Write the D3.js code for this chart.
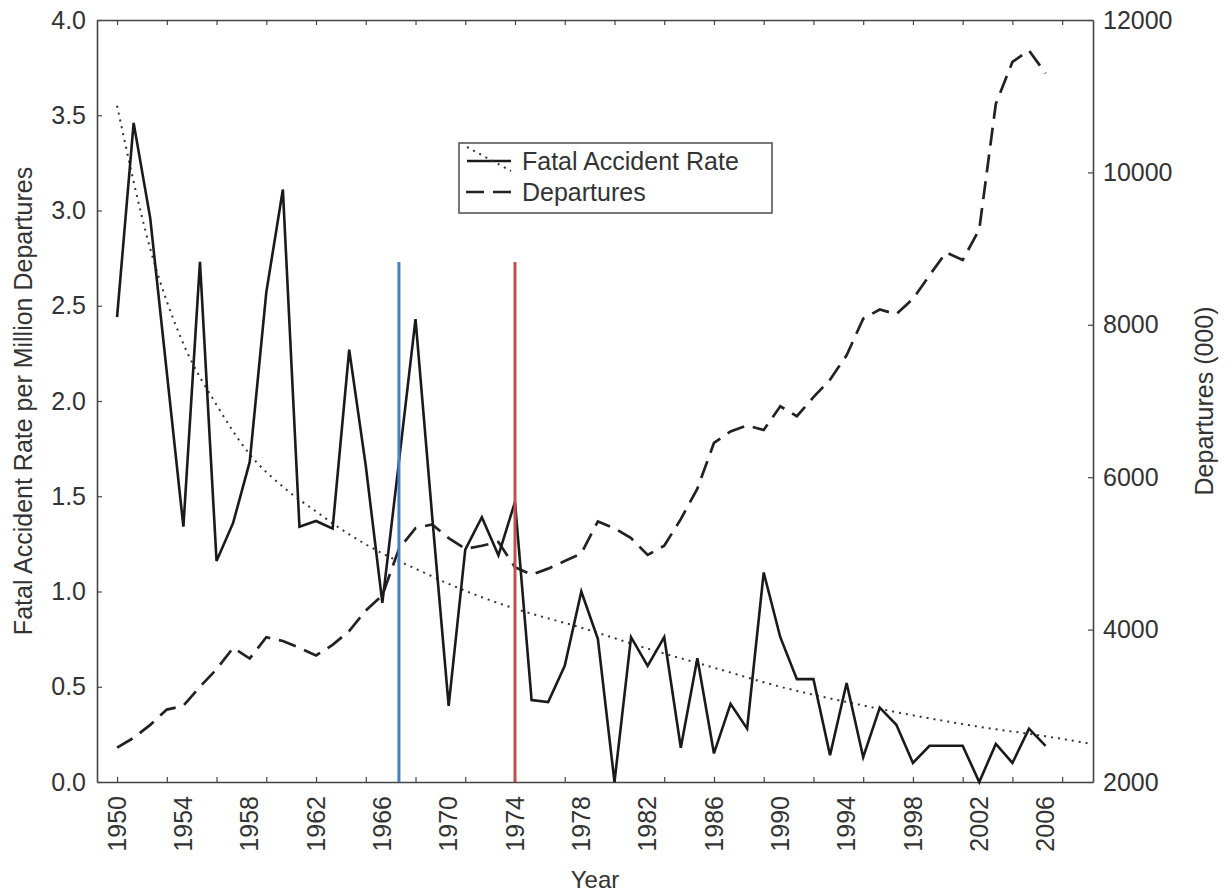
<!DOCTYPE html>
<html>
<head>
<meta charset="utf-8">
<script src="https://cdn.jsdelivr.net/npm/d3@7"></script>
<style>
  body { margin: 0; background: #fff; }
  svg text { font-family: "Liberation Sans", Arial, sans-serif; fill: #333; }
</style>
</head>
<body>
<script>
// ---- data ----
var years = [1950, 1951, 1952, 1953, 1954, 1955, 1956, 1957, 1958, 1959,
    1960, 1961, 1962, 1963, 1964, 1965, 1966, 1967, 1968, 1969,
    1970, 1971, 1972, 1973, 1974, 1975, 1976, 1977, 1978, 1979,
    1980, 1981, 1982, 1983, 1984, 1985, 1986, 1987, 1988, 1989,
    1990, 1991, 1992, 1993, 1994, 1995, 1996, 1997, 1998, 1999,
    2000, 2001, 2002, 2003, 2004, 2005, 2006];

// fatal accidents per million departures
var fatalRate = [2.44, 3.46, 2.96, 2.15, 1.34, 2.73, 1.16, 1.36, 1.68, 2.57,
    3.11, 1.34, 1.37, 1.33, 2.27, 1.66, 0.94, 1.68, 2.43, 1.40,
    0.40, 1.22, 1.39, 1.19, 1.47, 0.43, 0.42, 0.61, 1.00, 0.75,
    0.00, 0.76, 0.61, 0.76, 0.18, 0.65, 0.15, 0.41, 0.28, 1.10,
    0.76, 0.54, 0.54, 0.14, 0.52, 0.13, 0.39, 0.30, 0.10, 0.19,
    0.19, 0.19, 0.00, 0.20, 0.10, 0.28, 0.19];

// departures (000)
var departures = [2450, 2580, 2750, 2950, 3000, 3250, 3480, 3760, 3620, 3900,
    3850, 3760, 3660, 3800, 3980, 4250, 4450, 5060, 5330, 5380,
    5200, 5060, 5100, 5150, 4820, 4720, 4800, 4900, 5000, 5420,
    5330, 5200, 4980, 5100, 5450, 5850, 6450, 6600, 6680, 6620,
    6930, 6800, 7050, 7280, 7600, 8080, 8200, 8140, 8340, 8650,
    8950, 8850, 9250, 10900, 11450, 11600, 11300];

// dotted trend line of the fatal rate
var trendYears = [1950, 1952, 1954, 1956, 1958, 1960, 1962, 1964, 1966, 1968,
    1970, 1972, 1974, 1978, 1982, 1986, 1990, 1994, 1998, 2002, 2006, 2008.8];
var trendRate = [3.55, 2.80, 2.30, 1.98, 1.72, 1.55, 1.42, 1.30, 1.20, 1.12,
    1.04, 0.97, 0.91, 0.81, 0.70, 0.60, 0.50, 0.42, 0.35, 0.29, 0.24, 0.20];

// coloured marker lines: year and top value (left axis)
var markerYears = [1967, 1974];
var markerTop = [2.73, 2.73];
var markerColors = ["#4a7fc1", "#c0504d"];

var tickYears = [1950, 1953, 1956, 1959, 1962, 1965, 1968, 1971, 1974, 1977,
    1980, 1983, 1986, 1989, 1992, 1995, 1998, 2001, 2004, 2007];
var labelYears = [1950, 1954, 1958, 1962, 1966, 1970, 1974, 1978, 1982, 1986,
    1990, 1994, 1998, 2002, 2006];
var leftTicks = [0, 0.5, 1.0, 1.5, 2.0, 2.5, 3.0, 3.5, 4.0];
var rightTicks = [2000, 4000, 6000, 8000, 10000, 12000];

var legendLabels = ["Fatal Accident Rate", "Departures"];

// ---- layout ----
var margin = {top: 20, right: 135, bottom: 114, left: 97},
    width = 1228 - margin.left - margin.right,
    height = 896 - margin.top - margin.bottom;

var svg = d3.select("body").append("svg")
    .attr("width", 1228)
    .attr("height", 896)
    .append("g")
    .attr("transform", "translate(" + margin.left + "," + margin.top + ")");

var x = d3.scaleLinear().domain([1948.79, 2008.86]).range([0, width]);
var yL = d3.scaleLinear().domain([0, 4]).range([height, 0]);
var yR = d3.scaleLinear().domain([2000, 12000]).range([height, 0]);

var axisColor = "#444";

// ---- axes (ticks point inwards) ----
var gLeft = svg.append("g")
    .call(d3.axisLeft(yL).tickValues(leftTicks).tickFormat(d3.format(".1f"))
        .tickSize(-5).tickSizeOuter(0).tickPadding(11));

var gRight = svg.append("g")
    .attr("transform", "translate(" + width + ",0)")
    .call(d3.axisRight(yR).tickValues(rightTicks).tickFormat(d3.format("d"))
        .tickSize(-5).tickSizeOuter(0).tickPadding(10));

var gBottom = svg.append("g")
    .attr("transform", "translate(0," + height + ")")
    .call(d3.axisBottom(x).tickValues(tickYears).tickFormat("")
        .tickSize(-5).tickSizeOuter(0));

var gTop = svg.append("g")
    .call(d3.axisTop(x).tickValues(tickYears).tickFormat("")
        .tickSize(-5).tickSizeOuter(0));

[gLeft, gRight, gBottom, gTop].forEach(function(g){
    g.selectAll("path.domain").attr("stroke", axisColor).attr("stroke-width", 1.6);
    g.selectAll(".tick line").attr("stroke", axisColor).attr("stroke-width", 1.2);
    g.selectAll("text").style("font-size", "25px").attr("fill", "#333");
});

// rotated year labels
svg.append("g").selectAll("text")
    .data(labelYears)
    .enter()
    .append("text")
    .attr("transform", function(d){
        return "translate(" + x(d) + "," + (height + 14) + ") rotate(-90)";
    })
    .attr("text-anchor", "end")
    .attr("dy", "0.35em")
    .style("font-size", "25px")
    .text(function(d){ return d; });

// axis titles
svg.append("text")
    .attr("x", width / 2)
    .attr("y", height + 106)
    .attr("text-anchor", "middle")
    .style("font-size", "24px")
    .text("Year");

svg.append("text")
    .attr("transform", "translate(" + (32 - margin.left) + "," + (height / 2) + ") rotate(-90)")
    .attr("text-anchor", "middle")
    .style("font-size", "25px")
    .text("Fatal Accident Rate per Million Departures");

svg.append("text")
    .attr("transform", "translate(" + (1213 - margin.left) + "," + (height / 2) + ") rotate(-90)")
    .attr("text-anchor", "middle")
    .style("font-size", "25px")
    .text("Departures (000)");

// ---- series ----
var trendLine = d3.line()
    .curve(d3.curveMonotoneX)
    .x(function(d, i){ return x(trendYears[i]); })
    .y(function(d){ return yL(d); });

svg.append("path")
    .attr("d", trendLine(trendRate))
    .attr("fill", "none")
    .attr("stroke", "#333")
    .attr("stroke-width", 2)
    .attr("stroke-dasharray", "2,5");

var depLine = d3.line()
    .x(function(d, i){ return x(years[i]); })
    .y(function(d){ return yR(d); });

svg.append("path")
    .attr("d", depLine(departures))
    .attr("fill", "none")
    .attr("stroke", "#222")
    .attr("stroke-width", 2.7)
    .attr("stroke-dasharray", "18,9");

var rateLine = d3.line()
    .x(function(d, i){ return x(years[i]); })
    .y(function(d){ return yL(d); });

svg.append("path")
    .attr("d", rateLine(fatalRate))
    .attr("fill", "none")
    .attr("stroke", "#1a1a1a")
    .attr("stroke-width", 2.6)
    .attr("stroke-linejoin", "miter");

// coloured vertical markers
markerYears.forEach(function(yr, i){
    svg.append("line")
        .attr("x1", x(yr))
        .attr("x2", x(yr))
        .attr("y1", yL(0))
        .attr("y2", yL(markerTop[i]))
        .attr("stroke", markerColors[i])
        .attr("stroke-width", 3);
});

// ---- legend ----
var lg = svg.append("g")
    .attr("transform", "translate(" + (459 - margin.left) + "," + (143 - margin.top) + ")");

lg.append("rect")
    .attr("width", 313)
    .attr("height", 70)
    .attr("fill", "#fff")
    .attr("stroke", "#555")
    .attr("stroke-width", 1.6);

// solid + dotted sample for the rate
lg.append("line")
    .attr("x1", 8).attr("x2", 52).attr("y1", 18).attr("y2", 18)
    .attr("stroke", "#1a1a1a").attr("stroke-width", 2.4);
lg.append("line")
    .attr("x1", 8).attr("x2", 52).attr("y1", 4).attr("y2", 28)
    .attr("stroke", "#333").attr("stroke-width", 2)
    .attr("stroke-dasharray", "2,5");
// dashed sample for departures
lg.append("line")
    .attr("x1", 7).attr("x2", 53).attr("y1", 49).attr("y2", 49)
    .attr("stroke", "#222").attr("stroke-width", 2.7)
    .attr("stroke-dasharray", "18,9");

lg.selectAll("text.lab")
    .data(legendLabels)
    .enter()
    .append("text")
    .attr("class", "lab")
    .attr("x", 63)
    .attr("y", function(d, i){ return 27 + i * 31; })
    .style("font-size", "25px")
    .text(function(d){ return d; });
</script>
</body>
</html>
